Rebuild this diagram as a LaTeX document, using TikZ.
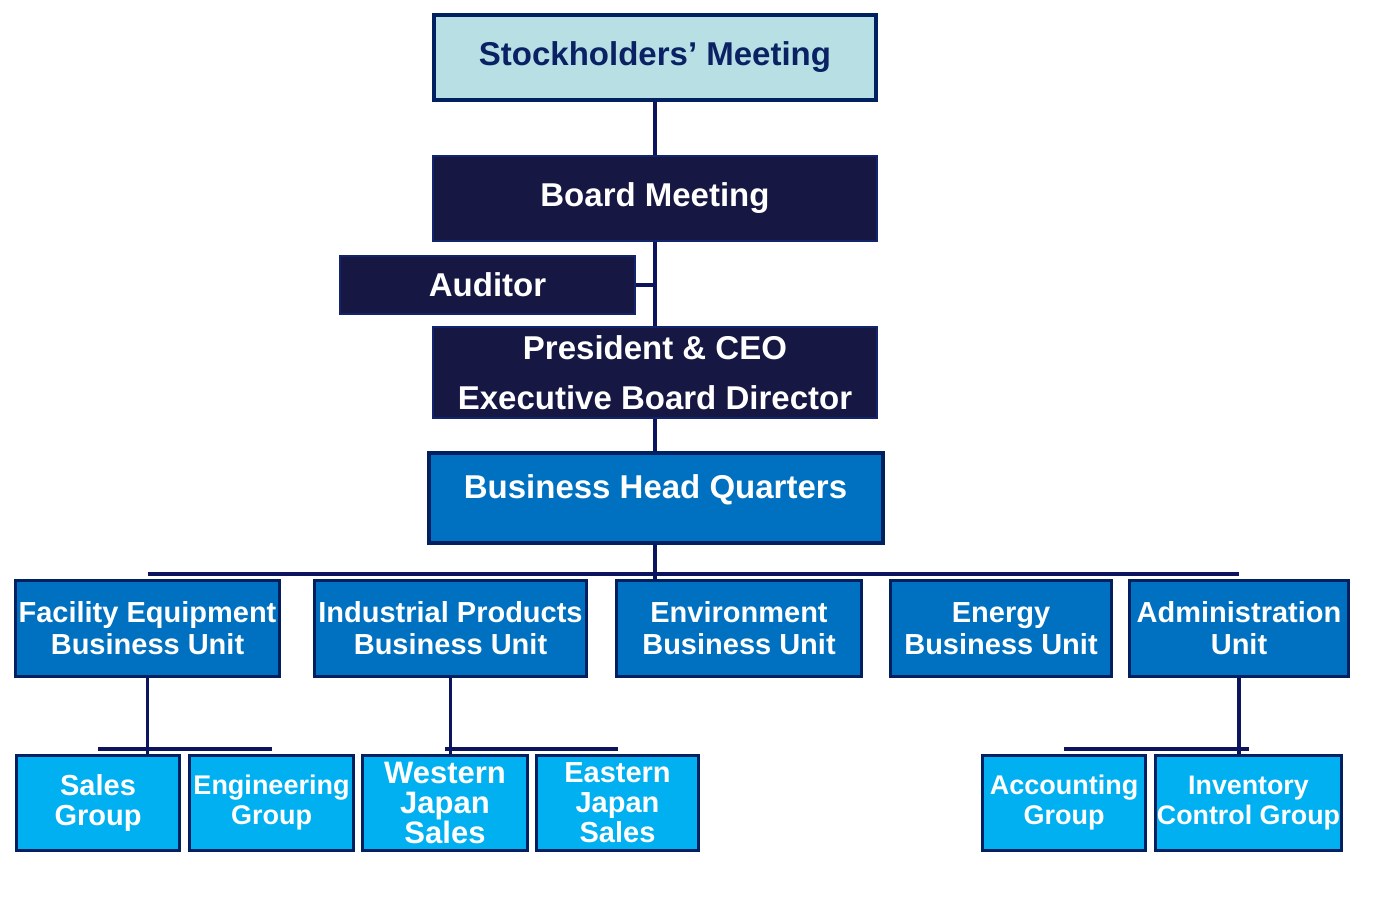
\documentclass[tikz,border=0pt]{standalone}
\usepackage{fontspec}
\setmainfont{Liberation Sans}
\usetikzlibrary{calc}
\definecolor{navyline}{RGB}{12,20,96}
\definecolor{navyedge}{RGB}{0,32,96}
\definecolor{stockfill}{RGB}{184,223,227}
\definecolor{stocktext}{RGB}{10,34,100}
\definecolor{boardfill}{RGB}{22,23,66}
\definecolor{boardedge}{RGB}{18,36,108}
\definecolor{unitfill}{RGB}{0,112,192}
\definecolor{groupfill}{RGB}{0,176,240}
\tikzset{
	stockbox/.style={draw=navyedge, line width=2pt, fill=stockfill, text=stocktext, inner sep=0pt, font=\bfseries\fontsize{16.5}{20}\selectfont},
	darkbox/.style={draw=boardedge, line width=1pt, fill=boardfill, text=white, inner sep=0pt, align=center, font=\bfseries\fontsize{16.5}{25}\selectfont},
	hqbox/.style={draw=navyedge, line width=2pt, fill=unitfill, inner sep=0pt},
	unitbox/.style={draw=navyedge, line width=1.6pt, fill=unitfill, text=white, inner sep=0pt, align=center, minimum height=48pt, font=\bfseries\fontsize{14.5}{16}\selectfont},
	groupbox/.style={draw=navyedge, line width=1.4pt, fill=groupfill, text=white, inner sep=0pt, align=center, minimum height=47.6pt},
	conn/.style={draw=navyline, line width=1.6pt},
	bus/.style={draw=navyline, line width=2pt}
}
\begin{document}
\begin{tikzpicture}[x=0.5pt, y=-0.5pt]
\useasboundingbox (0,0) rectangle (1378,914);
\node[stockbox, minimum width=221pt, minimum height=42.5pt] (stock) at (655,57.5) {Stockholders’ Meeting};
\node[darkbox, minimum width=222pt, minimum height=42.5pt] (board) at (655,198.5) {Board Meeting};
\node[darkbox, minimum width=147.5pt, minimum height=29pt] (aud) at (487.5,285) {Auditor};
\node[darkbox, minimum width=222pt, minimum height=45.5pt] (pres) at (655,372.5) {President \& CEO\\Executive Board Director};
\node[hqbox, minimum width=227pt, minimum height=45pt,
	label={[yshift=4pt, text=white, font=\bfseries\fontsize{16.5}{20}\selectfont]center:Business Head Quarters}] (bhq) at (655.5,498) {};
\foreach \name/\x/\w/\txt in {fac/147.5/132/{Facility Equipment\\Business Unit},
	ind/450.5/136/{Industrial Products\\Business Unit},
	env/739/122.5/{Environment\\Business Unit},
	ene/1001/110.5/{Energy\\Business Unit},
	adm/1239/109.5/{Administration\\Unit}} {
	\node[unitbox, minimum width=\w pt] (\name) at (\x,628.5) {\txt};
}
\foreach \name/\x/\w/\fs/\txt in {sales/98/81.6/14.5/{Sales\\Group},
	eng/271.5/82.1/13.5/{Engineering\\Group},
	west/445/82.6/15.5/{Western\\Japan\\Sales},
	east/617.5/81.1/14.5/{Eastern\\Japan\\Sales},
	acc/1064/81.6/13.5/{Accounting\\Group},
	inv/1248.5/93.1/13.4/{Inventory\\Control Group}} {
	\node[groupbox, minimum width=\w pt, font=\bfseries\fontsize{\fs}{15}\selectfont] (\name) at (\x,803) {\txt};
}
\draw[conn] (stock.south) -- (board.north);
\draw[conn] (board.south) -- (pres.north);
\draw[conn] (aud.east) -- (aud.east -| board.south);
\draw[conn] (pres.south) -- (pres.south |- bhq.north);
\draw[conn] (pres.south |- bhq.south) -- (pres.south |- fac.north);
\draw[bus] ([yshift=2.2pt]fac.north) -- ([yshift=2.2pt]adm.north);
\foreach \up/\a/\b in {fac/sales/eng, ind/west/east, adm/acc/inv} {
	\draw[conn] (\up.south) -- (\up.south |- \a.north);
	\draw[bus] ([yshift=2.6pt]\a.north) -- ([yshift=2.6pt]\b.north);
}
\end{tikzpicture}
\end{document}
